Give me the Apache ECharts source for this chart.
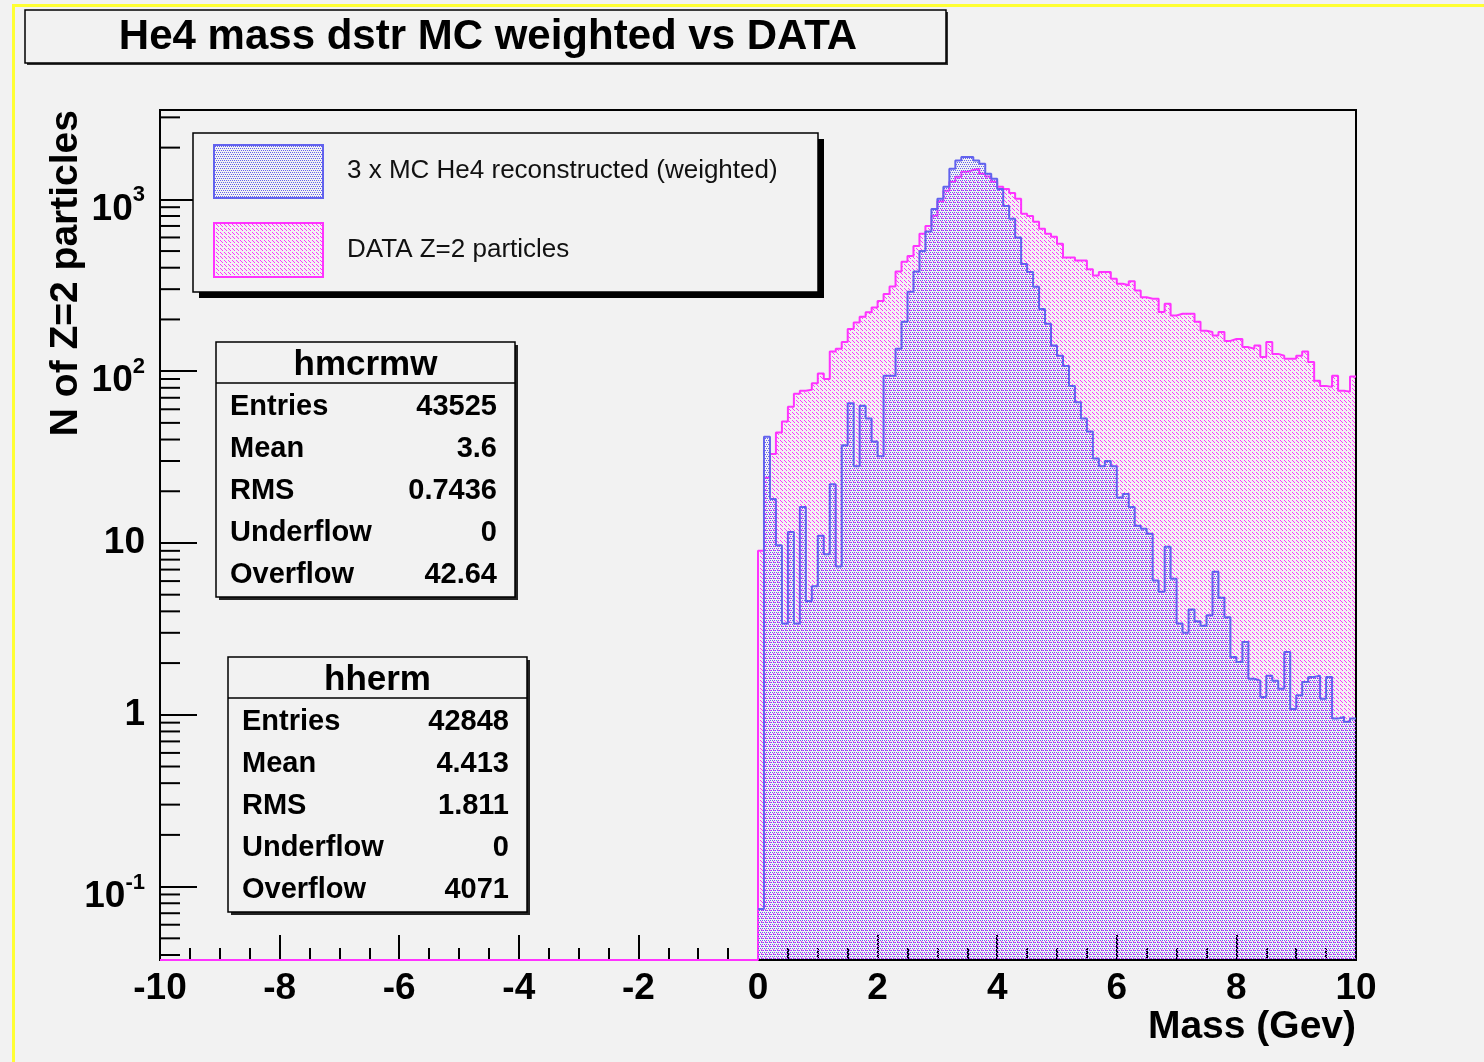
<!DOCTYPE html>
<html>
<head>
<meta charset="utf-8">
<script src="https://cdn.jsdelivr.net/npm/echarts@6/dist/echarts.min.js"></script>
<style>
html,body{margin:0;padding:0;background:#f2f2f2;}
#main{width:1484px;height:1062px;}
</style>
</head>
<body>
<div id="main"></div>
<script>
// histogram: 200 bins of 0.1 on [-10,10], everything below 0 is empty
var X_MIN = -10, X_MAX = 10, BIN_W = 0.1;
var Y_MIN = 0.0374, Y_MAX = 3311;

// bins 0.0 .. 9.9 (counts per bin)
var mcCounts = [
  0.074, 41.5, 18, 9.7, 3.4, 11.6, 3.4, 16.2, 4.6, 5.6,
  11, 8.6, 22, 7.3, 37, 65, 28, 63, 53, 39,
  32, 94, 94, 135, 194, 290, 380, 500, 650, 880,
  1008, 1184, 1506, 1684, 1763, 1763, 1684, 1611, 1409, 1318,
  1150, 916, 770, 600, 420, 378, 310, 230, 189, 141,
  123, 107, 82, 66, 53, 44.5, 31, 28, 30, 28,
  18.4, 19.3, 16.2, 12.6, 12.1, 11.3, 6.05, 5.2, 9.5, 6.2,
  3.4, 3.0, 4.1, 3.5, 3.3, 3.8, 6.8, 4.8, 3.7, 2.17,
  2.03, 2.65, 1.62, 1.58, 1.27, 1.69, 1.58, 1.42, 2.32, 1.08,
  1.30, 1.55, 1.66, 1.69, 1.24, 1.66, 0.95, 0.97, 0.91, 0.95
];
var dataCounts = [
  9.0, 24, 33, 44, 51, 62, 74, 77, 78, 85,
  97, 90, 130, 135, 148, 176, 192, 207, 220, 235,
  256, 281, 311, 380, 433, 468, 535, 630, 700, 802,
  975, 1122, 1266, 1354, 1449, 1480, 1506, 1409, 1360, 1266,
  1184, 1150, 1090, 1008, 824, 800, 741, 675, 630, 606,
  552, 458, 458, 440, 440, 392, 360, 378, 378, 345,
  323, 316, 334, 295, 269, 264, 264, 221, 247, 211,
  216, 216, 216, 194, 172, 169, 161, 169, 150, 154,
  154, 138, 135, 141, 121, 148, 126, 123, 118, 118,
  123, 130, 113, 88, 82, 81, 94, 77, 76, 93
];

var seriesNames = ['3 x MC He4 reconstructed (weighted)', 'DATA Z=2 particles'];
var statsMC = { title: 'hmcrmw', rows: [['Entries', '43525'], ['Mean', '3.6'], ['RMS', '0.7436'], ['Underflow', '0'], ['Overflow', '42.64']] };
var statsData = { title: 'hherm', rows: [['Entries', '42848'], ['Mean', '4.413'], ['RMS', '1.811'], ['Underflow', '0'], ['Overflow', '4071']] };
var yMinorMantissa = [2, 3, 4, 5, 6, 7, 8, 9];

var FONT = '"Liberation Sans", Arial, Helvetica, sans-serif';
var BLUE = '#6262ee', MAGENTA = '#ff33ff';

// step points, one per bin low edge; withEmpty adds the empty [-10,0) range on the floor
function histLine(counts, withEmpty) {
    var pts = withEmpty ? [[X_MIN, Y_MIN]] : [];
    for (var i = 0; i < counts.length; i++) {
        pts.push([+(i * BIN_W).toFixed(2), counts[i] > 0 ? counts[i] : Y_MIN]);
    }
    pts.push([X_MAX, counts[counts.length - 1]]);
    return pts;
}

function tile(size, pts, color) {
    var c = document.createElement('canvas');
    c.width = size; c.height = size;
    var g = c.getContext('2d');
    g.fillStyle = color;
    pts.forEach(function (p) { g.fillRect(p[0], p[1], 1, 1); });
    return c;
}
var mcTile = tile(4, [[0, 0], [2, 0], [1, 2], [3, 2]], BLUE);
var dataTile = tile(8, [[0, 0], [1, 1], [2, 2], [4, 4], [5, 5], [6, 6],
                        [4, 0], [5, 1], [6, 2], [0, 4], [1, 5], [2, 6]], MAGENTA);

var minorTicks = [];
for (var e = -2; e <= 3; e++) {
    yMinorMantissa.forEach(function (m) {
        var v = m * Math.pow(10, e);
        if (v > Y_MIN && v < Y_MAX) minorTicks.push([X_MIN, v]);
    });
}

function statBox(x, y, title, rows) {
    var w = 299, h = 255, els = [];
    els.push({ type: 'rect', shape: { x: x + 3, y: y + 3, width: w, height: h }, style: { fill: '#222' }, z: 10 });
    els.push({ type: 'rect', shape: { x: x, y: y, width: w, height: h }, style: { fill: '#f2f2f2', stroke: '#000', lineWidth: 1.5 }, z: 11 });
    els.push({ type: 'line', shape: { x1: x, y1: y + 41, x2: x + w, y2: y + 41 }, style: { stroke: '#000', lineWidth: 1.5 }, z: 12 });
    els.push({ type: 'text', x: x + w / 2, y: y + 23, z: 12,
        style: { text: title, font: 'bold 35px ' + FONT, fill: '#000', align: 'center', verticalAlign: 'middle' } });
    rows.forEach(function (r, k) {
        var cy = y + 65 + 42 * k;
        els.push({ type: 'text', x: x + 14, y: cy, z: 12,
            style: { text: r[0], font: 'bold 29px ' + FONT, fill: '#000', align: 'left', verticalAlign: 'middle' } });
        els.push({ type: 'text', x: x + 281, y: cy, z: 12,
            style: { text: r[1], font: 'bold 29px ' + FONT, fill: '#000', align: 'right', verticalAlign: 'middle' } });
    });
    return els;
}

var graphics = [
    // yellow screenshot border
    { type: 'rect', shape: { x: 12, y: 4, width: 1472, height: 3 }, style: { fill: '#ffff33' }, z: 20 },
    { type: 'rect', shape: { x: 12, y: 4, width: 3, height: 1058 }, style: { fill: '#ffff33' }, z: 20 },
    // title box
    { type: 'rect', shape: { x: 27, y: 12, width: 921, height: 53 }, style: { fill: '#333' }, z: 10 },
    { type: 'rect', shape: { x: 25, y: 10, width: 921, height: 53 }, style: { fill: '#f2f2f2', stroke: '#000', lineWidth: 1.5 }, z: 11 },
    { type: 'text', x: 488, y: 37, z: 12,
      style: { text: 'He4 mass dstr MC weighted vs DATA', font: 'bold 42px ' + FONT, fill: '#000', align: 'center', verticalAlign: 'middle' } },
    // legend box
    { type: 'rect', shape: { x: 199, y: 139, width: 625, height: 159 }, style: { fill: '#000' }, z: 10 },
    { type: 'rect', shape: { x: 193, y: 133, width: 625, height: 159 }, style: { fill: '#f2f2f2', stroke: '#000', lineWidth: 1.5 }, z: 11 },
    { type: 'rect', shape: { x: 214, y: 145, width: 109, height: 53 },
      style: { fill: { image: mcTile, repeat: 'repeat' }, stroke: BLUE, lineWidth: 2 }, z: 12 },
    { type: 'rect', shape: { x: 214, y: 223, width: 109, height: 54 },
      style: { fill: { image: dataTile, repeat: 'repeat' }, stroke: MAGENTA, lineWidth: 2 }, z: 12 },
    { type: 'text', x: 347, y: 171, z: 12,
      style: { text: seriesNames[0], font: '26px ' + FONT, fill: '#111', align: 'left', verticalAlign: 'middle' } },
    { type: 'text', x: 347, y: 250, z: 12,
      style: { text: seriesNames[1], font: '26px ' + FONT, fill: '#111', align: 'left', verticalAlign: 'middle' } },
    // axis titles
    { type: 'text', x: 66, y: 110, rotation: Math.PI / 2, z: 12,
      style: { text: 'N of Z=2 particles', font: 'bold 39px ' + FONT, fill: '#000', align: 'right', verticalAlign: 'middle' } },
    { type: 'text', x: 1356, y: 1027, z: 12,
      style: { text: 'Mass (Gev)', font: 'bold 39px ' + FONT, fill: '#000', align: 'right', verticalAlign: 'middle' } }
].concat(statBox(216, 342, statsMC.title, statsMC.rows))
 .concat(statBox(228, 657, statsData.title, statsData.rows));

var myChart = echarts.init(document.getElementById('main'), null, { renderer: 'canvas' });
var option = {
    backgroundColor: '#f2f2f2',
    animation: false,
    grid: { left: 160, right: 128, top: 110, bottom: 102, show: true, borderColor: '#000', borderWidth: 2, backgroundColor: 'transparent' },
    xAxis: {
        type: 'value', min: X_MIN, max: X_MAX, interval: 2,
        axisLine: { onZero: false, lineStyle: { color: '#000', width: 2 } },
        axisTick: { inside: true, length: 25, lineStyle: { color: '#000', width: 2 } },
        minorTick: { show: true, splitNumber: 4, length: 12, lineStyle: { color: '#000', width: 2 } },
        splitLine: { show: false },
        axisLabel: { fontFamily: FONT, fontWeight: 'bold', fontSize: 37, color: '#000', margin: 10 }
    },
    yAxis: {
        type: 'log', logBase: 10, min: Y_MIN, max: Y_MAX,
        axisLine: { onZero: false, lineStyle: { color: '#000', width: 2 } },
        axisTick: { inside: true, length: 37, lineStyle: { color: '#000', width: 2 } },
        splitLine: { show: false },
        axisLabel: {
            margin: 15, showMinLabel: false, showMaxLabel: false,
            formatter: function (v) {
                var ex = Math.log(v) / Math.LN10, r = Math.round(ex);
                if (Math.abs(ex - r) > 1e-6) return '';
                if (r === 0) return '{m|1}';
                if (r === 1) return '{m|10}';
                return '{n|10}{s|' + r + '}';
            },
            rich: {
                m: { fontFamily: FONT, fontWeight: 'bold', fontSize: 37, color: '#000', lineHeight: 40 },
                n: { fontFamily: FONT, fontWeight: 'bold', fontSize: 37, color: '#000', lineHeight: 40, padding: [20, 0, 0, 0] },
                s: { fontFamily: FONT, fontWeight: 'bold', fontSize: 22, color: '#000', lineHeight: 22, padding: [15, 0, 23, 0] }
            }
        }
    },
    graphic: graphics,
    series: [
        {
            name: seriesNames[1], type: 'line', step: 'end', symbol: 'none',
            data: histLine(dataCounts, true),
            lineStyle: { color: MAGENTA, width: 2 },
            areaStyle: { color: { image: dataTile, repeat: 'repeat' }, opacity: 1, origin: 'start' },
            z: 3
        },
        {
            name: seriesNames[0], type: 'line', step: 'end', symbol: 'none',
            data: histLine(mcCounts, false),
            lineStyle: { color: BLUE, width: 2 },
            areaStyle: { color: { image: mcTile, repeat: 'repeat' }, opacity: 1, origin: 'start' },
            z: 4
        },
        {
            // log minor ticks 2..9 x 10^k on the left axis
            type: 'custom', silent: true, z: 5,
            data: minorTicks,
            renderItem: function (params, api) {
                var p = api.coord([api.value(0), api.value(1)]);
                return { type: 'line', shape: { x1: p[0], y1: p[1], x2: p[0] + 20, y2: p[1] },
                         style: { stroke: '#000', lineWidth: 2 } };
            }
        }
    ]
};
myChart.setOption(option);
</script>
</body>
</html>
